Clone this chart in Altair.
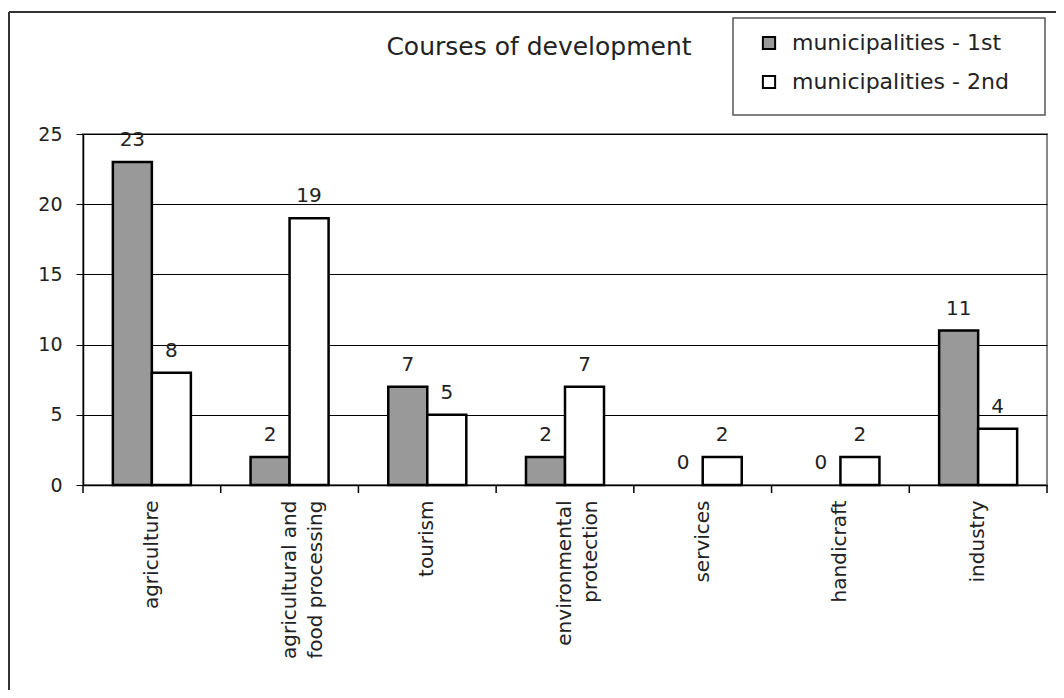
import altair as alt
import pandas as pd

FONT = "DejaVu Sans"

categories = ["agriculture", "agricultural and\nfood processing", "tourism",
              "environmental\nprotection", "services", "handicraft", "industry"]
series = ["municipalities - 1st", "municipalities - 2nd"]
first = [23, 2, 7, 2, 0, 0, 11]
second = [8, 19, 5, 7, 2, 2, 4]
y_ticks = [0, 5, 10, 15, 20, 25]
title_text = "Courses of development"

rows = []
for c, a, b in zip(categories, first, second):
    rows.append({"category": c, "series": series[0], "value": a})
    rows.append({"category": c, "series": series[1], "value": b})
df = pd.DataFrame(rows)
cat_df = pd.DataFrame({"category": categories})
one = pd.DataFrame({"a": [0]})
title_df = pd.DataFrame({"t": [title_text]})

x_axis = alt.Axis(labelAngle=270, labelFontSize=20, labelFont=FONT, labelColor="#222",
                  labelExpr="split(datum.label, '\\n')", labelLineHeight=26,
                  labelPadding=15, labelLimit=400, ticks=False, domainColor="#000",
                  domainWidth=1.5, title=None)
x_scale = alt.Scale(paddingInner=0, paddingOuter=0)
y_enc = alt.Y("value:Q", scale=alt.Scale(domain=[0, 25]),
              axis=alt.Axis(values=y_ticks, grid=True, gridColor="#000", gridWidth=1,
                            domainColor="#000", domainWidth=1.5, tickColor="#000",
                            tickSize=7, labelFontSize=19, labelFont=FONT,
                            labelColor="#222", labelPadding=14, title=None))
xo = alt.XOffset("series:N", sort=series,
                 scale=alt.Scale(paddingOuter=0.765, paddingInner=0))

bars = alt.Chart(df).transform_filter("datum.value > 0").mark_bar(
    stroke="black", strokeWidth=2.5
).encode(
    x=alt.X("category:N", sort=categories, scale=x_scale, axis=x_axis),
    xOffset=xo,
    y=y_enc,
    fill=alt.Fill("series:N", sort=series,
                  scale=alt.Scale(domain=series, range=["#999999", "#ffffff"]),
                  legend=alt.Legend(title=None, orient="none", legendX=675, legendY=-102,
                                    symbolType="square", symbolSize=150,
                                    symbolStrokeColor="black", symbolStrokeWidth=2,
                                    labelFontSize=22, labelFont=FONT, labelColor="#222",
                                    labelOffset=12, rowPadding=17, padding=0,
                                    labelLimit=400)),
)

texts = alt.Chart(df).mark_text(dy=-22, fontSize=20, font=FONT, color="#222").encode(
    x=alt.X("category:N", sort=categories, scale=x_scale, axis=x_axis),
    xOffset=xo,
    y=y_enc,
    text="value:Q",
)

ticks = alt.Chart(cat_df).mark_rule(color="black", strokeWidth=1.5).encode(
    x=alt.X("category:N", sort=categories, scale=x_scale, axis=x_axis, bandPosition=0),
    y=alt.value(351), y2=alt.value(359),
)
end_tick = alt.Chart(one).mark_rule(color="black", strokeWidth=1.5).encode(
    x=alt.value(964), y=alt.value(351), y2=alt.value(359)
)

border_left = alt.Chart(one).mark_rule(color="#333", strokeWidth=2).encode(
    x=alt.value(-74), y=alt.value(-122), y2=alt.value(600)
)
border_top = alt.Chart(one).mark_rule(color="#333", strokeWidth=2).encode(
    x=alt.value(-74), x2=alt.value(1000), y=alt.value(-122)
)
legend_box = alt.Chart(one).mark_rect(fill="white", stroke="#555", strokeWidth=1.5).encode(
    x=alt.value(650), x2=alt.value(962), y=alt.value(-116), y2=alt.value(-19)
)
title = alt.Chart(title_df).mark_text(fontSize=25, font=FONT, color="#222",
                                      align="center", baseline="middle").encode(
    text="t:N", x=alt.value(456), y=alt.value(-87)
)

chart = alt.layer(border_left, border_top, legend_box, title, bars, texts, ticks, end_tick).properties(
    width=964, height=351, autosize="none",
    padding={"left": 75, "top": 126, "right": 9, "bottom": 205},
).configure_view(stroke="#888", strokeWidth=2)

chart.save("out.html", embed_options={"renderer": "svg", "actions": False})
